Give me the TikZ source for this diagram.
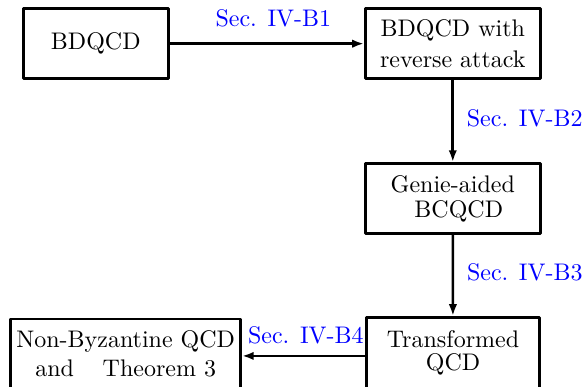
\documentclass[tikz,border=0pt]{standalone}
\usetikzlibrary{arrows.meta}
\begin{document}
\begin{tikzpicture}[x=0.4167pt,y=-0.4167pt,>={Latex[length=4.9pt,width=3.5pt]}, line join=round,
	blk/.style={draw,line width=1.1pt,inner sep=1pt,minimum height=29.2pt,align=center},
	sec/.style={text=blue,inner sep=3.33pt},
	con/.style={->,line width=1.1pt}]
\useasboundingbox (0,0) rectangle (586,387);
% Khoi
\node[blk,minimum width=60.5pt] (bd) at (95.8,43.7) {BDQCD};
\node[blk,minimum width=72.9pt] (bdr) at (452.8,43.7) {BDQCD with\\[1.3pt]reverse attack};
\node[blk,minimum width=72.9pt] (ga) at (452.8,198.4) {Genie-aided\\[-1.6pt]\hspace*{5pt}BCQCD};
\node[blk,minimum width=72.2pt,minimum height=34pt,text depth=6.6pt] (tq) at (453,358.1) {Transformed\\[-2.4pt]QCD};
\node[blk,minimum width=95.8pt,minimum height=34pt,text depth=5pt] (nb) at (125.7,359.8) {Non-Byzantine QCD\\and\hspace{12pt}Theorem 3};
% Mui ten
\draw[con] (bd) -- node[sec,above=3.2pt,xshift=2.7pt] (s1) {Sec. IV-B1} (bdr);
\draw[con] (bdr) -- node[sec,right=2pt,yshift=1.3pt] (s2) {Sec. IV-B2} (ga);
\draw[con] (ga) -- node[sec,right=2pt,yshift=1.1pt] (s3) {Sec. IV-B3} (tq);
\draw[con] ([yshift=0.9pt]tq.west) -- node[sec,above=1.25pt,xshift=1pt] (s4) {Sec. IV-B4} ([yshift=0.9pt]tq.west -| nb.east);
\end{tikzpicture}
\end{document}
